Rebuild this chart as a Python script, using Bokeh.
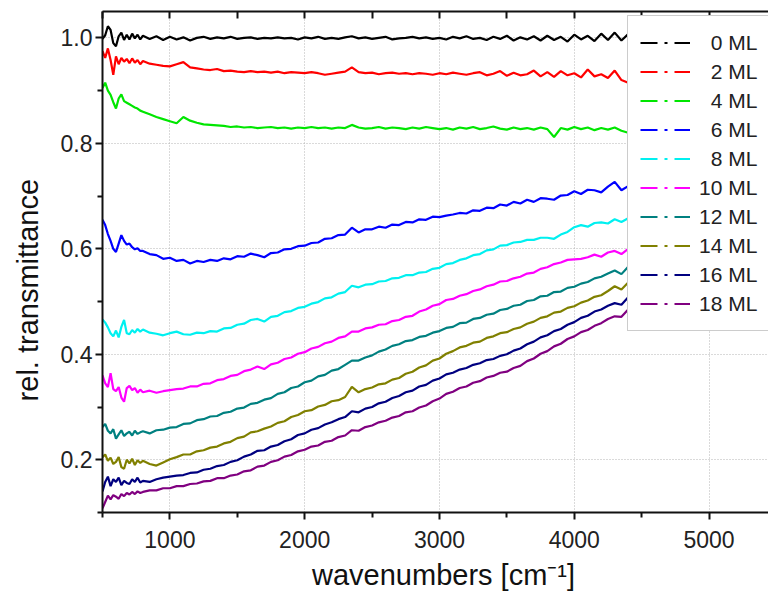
from bokeh.plotting import figure
from bokeh.models import (ColumnDataSource, LinearAxis, Legend, LegendItem, FixedTicker,
                          Range1d, PrintfTickFormatter)
from bokeh.embed import file_html
from bokeh.resources import INLINE

# Sampling grid of the spectra (cm^-1): finer at the low-wavenumber end
WAVENUMBERS = list(range(500, 800, 20)) + list(range(800, 4401, 50))

LABELS = ["0 ML", "2 ML", "4 ML", "6 ML", "8 ML", "10 ML", "12 ML", "14 ML", "16 ML", "18 ML"]
COLORS = ["#000000", "#ff0000", "#00e600", "#0000ff", "#00f0f0",
          "#ff00ff", "#008080", "#808000", "#000080", "#800080"]

T_0ML = [0.998, 1.005, 1.022, 1.015, 0.990, 0.984, 1.003, 1.010, 0.996, 1.006, 0.997, 1.008, 0.999, 1.006, 0.997,
         1.004, 0.998, 1.003, 0.996, 1.002, 0.997, 1.001, 0.995, 1.000, 1.002,
         0.998, 1.001, 0.999, 1.002, 0.998, 1.000, 1.001, 0.998, 1.000, 0.999,
         1.001, 0.999, 1.000, 0.997, 1.001, 0.999, 1.002, 0.998, 1.000, 0.998,
         1.001, 1.003, 0.999, 1.001, 0.998, 1.000, 1.002, 0.997, 0.999, 1.000,
         1.002, 0.999, 1.001, 0.998, 1.000, 0.997, 1.002, 0.999, 1.003, 0.998,
         1.000, 0.996, 1.002, 0.998, 1.004, 0.995, 1.001, 0.997, 1.003, 0.995,
         1.004, 0.996, 1.002, 0.993, 1.006, 0.997, 1.004, 0.994, 1.008, 0.996,
         1.010, 0.995, 1.007]

T_2ML = [0.975, 0.962, 0.980, 0.958, 0.930, 0.965, 0.950, 0.962, 0.955, 0.960, 0.952, 0.961, 0.953, 0.958, 0.950,
         0.956, 0.951, 0.949, 0.947, 0.946, 0.950, 0.954, 0.944, 0.942, 0.940,
         0.939, 0.941, 0.937, 0.938, 0.936, 0.935, 0.937, 0.935, 0.936, 0.934,
         0.936, 0.933, 0.935, 0.934, 0.933, 0.935, 0.933, 0.930, 0.932, 0.934,
         0.936, 0.944, 0.935, 0.933, 0.934, 0.931, 0.933, 0.934, 0.932, 0.933,
         0.931, 0.933, 0.932, 0.930, 0.933, 0.931, 0.934, 0.932, 0.930, 0.933,
         0.935, 0.929, 0.932, 0.937, 0.928, 0.934, 0.929, 0.931, 0.938, 0.927,
         0.935, 0.926, 0.937, 0.929, 0.933, 0.925, 0.940, 0.927, 0.931, 0.924,
         0.938, 0.920, 0.915]

T_4ML = [0.905, 0.915, 0.900, 0.892, 0.878, 0.866, 0.885, 0.893, 0.880, 0.877, 0.874, 0.871, 0.868, 0.866, 0.862,
         0.860, 0.855, 0.850, 0.846, 0.842, 0.838, 0.850, 0.843, 0.839, 0.836,
         0.835, 0.834, 0.833, 0.831, 0.832, 0.830, 0.831, 0.829, 0.830, 0.831,
         0.829, 0.830, 0.828, 0.830, 0.829, 0.831, 0.829, 0.830, 0.828, 0.830,
         0.829, 0.835, 0.830, 0.828, 0.829, 0.831, 0.828, 0.830, 0.829, 0.827,
         0.830, 0.828, 0.831, 0.829, 0.827, 0.829, 0.826, 0.830, 0.828, 0.831,
         0.827, 0.829, 0.832, 0.828, 0.826, 0.830, 0.827, 0.829, 0.826, 0.830,
         0.827, 0.812, 0.829, 0.826, 0.831, 0.827, 0.830, 0.825, 0.829, 0.826,
         0.830, 0.824, 0.820]

T_6ML = [0.655, 0.645, 0.628, 0.615, 0.600, 0.594, 0.610, 0.626, 0.615, 0.608, 0.610, 0.603, 0.599, 0.601, 0.596,
         0.596, 0.590, 0.588, 0.581, 0.583, 0.577, 0.579, 0.572, 0.577, 0.575,
         0.579, 0.577, 0.582, 0.580, 0.586, 0.585, 0.591, 0.588, 0.584, 0.592,
         0.593, 0.599, 0.600, 0.605, 0.606, 0.611, 0.612, 0.619, 0.620, 0.626,
         0.627, 0.640, 0.631, 0.637, 0.637, 0.642, 0.640, 0.646, 0.645, 0.651,
         0.650, 0.656, 0.655, 0.661, 0.660, 0.663, 0.665, 0.668, 0.667, 0.673,
         0.672, 0.678, 0.677, 0.684, 0.682, 0.689, 0.686, 0.693, 0.689, 0.696,
         0.695, 0.693, 0.701, 0.702, 0.709, 0.704, 0.712, 0.711, 0.707, 0.718,
         0.727, 0.711, 0.719]

T_8ML = [0.466, 0.460, 0.451, 0.440, 0.434, 0.445, 0.432, 0.452, 0.465, 0.440, 0.438, 0.446, 0.441, 0.448, 0.443,
         0.447, 0.441, 0.439, 0.436, 0.440, 0.443, 0.438, 0.437, 0.441, 0.440,
         0.444, 0.443, 0.449, 0.450, 0.456, 0.458, 0.465, 0.467, 0.462, 0.471,
         0.473, 0.480, 0.482, 0.488, 0.490, 0.496, 0.499, 0.506, 0.508, 0.515,
         0.518, 0.530, 0.527, 0.532, 0.533, 0.538, 0.539, 0.544, 0.545, 0.550,
         0.550, 0.555, 0.556, 0.562, 0.564, 0.571, 0.573, 0.579, 0.582, 0.588,
         0.590, 0.597, 0.599, 0.606, 0.607, 0.612, 0.613, 0.617, 0.617, 0.621,
         0.621, 0.619, 0.627, 0.632, 0.641, 0.645, 0.642, 0.649, 0.650, 0.648,
         0.656, 0.651, 0.658]

T_10ML = [0.360, 0.345, 0.338, 0.364, 0.334, 0.330, 0.338, 0.318, 0.310, 0.336, 0.340, 0.332, 0.336, 0.327, 0.333,
          0.328, 0.331, 0.327, 0.330, 0.332, 0.334, 0.335, 0.339, 0.339, 0.344,
          0.345, 0.351, 0.353, 0.359, 0.361, 0.368, 0.371, 0.377, 0.372, 0.381,
          0.384, 0.391, 0.394, 0.401, 0.404, 0.411, 0.414, 0.421, 0.424, 0.431,
          0.434, 0.443, 0.443, 0.449, 0.451, 0.456, 0.457, 0.463, 0.465, 0.471,
          0.473, 0.481, 0.485, 0.492, 0.495, 0.503, 0.505, 0.511, 0.514, 0.520,
          0.523, 0.529, 0.532, 0.538, 0.539, 0.544, 0.547, 0.553, 0.555, 0.562,
          0.565, 0.571, 0.574, 0.579, 0.580, 0.581, 0.584, 0.589, 0.585, 0.593,
          0.596, 0.590, 0.600]

T_12ML = [0.262, 0.268, 0.255, 0.250, 0.258, 0.240, 0.248, 0.256, 0.245, 0.250, 0.253, 0.246, 0.255, 0.249, 0.252,
          0.254, 0.250, 0.256, 0.257, 0.261, 0.262, 0.268, 0.269, 0.275, 0.277,
          0.282, 0.283, 0.289, 0.291, 0.297, 0.299, 0.306, 0.308, 0.314, 0.317,
          0.325, 0.328, 0.336, 0.339, 0.347, 0.350, 0.358, 0.361, 0.369, 0.372,
          0.380, 0.388, 0.388, 0.394, 0.398, 0.405, 0.409, 0.416, 0.419, 0.425,
          0.427, 0.433, 0.435, 0.441, 0.444, 0.450, 0.452, 0.459, 0.460, 0.467,
          0.469, 0.475, 0.477, 0.484, 0.486, 0.492, 0.494, 0.501, 0.503, 0.510,
          0.511, 0.518, 0.519, 0.526, 0.528, 0.534, 0.537, 0.544, 0.547, 0.553,
          0.559, 0.552, 0.566]

T_14ML = [0.205, 0.210, 0.198, 0.204, 0.192, 0.196, 0.205, 0.186, 0.183, 0.200, 0.193, 0.202, 0.190, 0.199, 0.194,
          0.198, 0.192, 0.189, 0.195, 0.201, 0.205, 0.210, 0.210, 0.216, 0.218,
          0.223, 0.225, 0.231, 0.234, 0.241, 0.244, 0.252, 0.254, 0.259, 0.263,
          0.270, 0.273, 0.281, 0.285, 0.292, 0.294, 0.301, 0.304, 0.311, 0.313,
          0.319, 0.338, 0.328, 0.334, 0.337, 0.343, 0.345, 0.352, 0.355, 0.363,
          0.367, 0.375, 0.379, 0.388, 0.392, 0.401, 0.406, 0.413, 0.416, 0.422,
          0.424, 0.431, 0.434, 0.440, 0.442, 0.448, 0.451, 0.458, 0.462, 0.469,
          0.472, 0.479, 0.481, 0.488, 0.491, 0.498, 0.502, 0.509, 0.512, 0.520,
          0.529, 0.523, 0.536]

T_16ML = [0.140, 0.158, 0.168, 0.150, 0.163, 0.158, 0.166, 0.152, 0.160, 0.156, 0.154, 0.163, 0.158, 0.166, 0.157,
          0.160, 0.158, 0.163, 0.166, 0.168, 0.170, 0.171, 0.175, 0.176, 0.181,
          0.183, 0.188, 0.190, 0.196, 0.199, 0.206, 0.210, 0.217, 0.218, 0.225,
          0.228, 0.235, 0.239, 0.247, 0.250, 0.257, 0.260, 0.267, 0.271, 0.277,
          0.281, 0.292, 0.290, 0.297, 0.300, 0.307, 0.310, 0.317, 0.321, 0.328,
          0.331, 0.339, 0.342, 0.350, 0.354, 0.362, 0.365, 0.371, 0.374, 0.380,
          0.383, 0.389, 0.391, 0.397, 0.400, 0.407, 0.411, 0.419, 0.424, 0.432,
          0.436, 0.444, 0.448, 0.456, 0.461, 0.469, 0.473, 0.481, 0.485, 0.492,
          0.497, 0.494, 0.508]

T_18ML = [0.108, 0.120, 0.132, 0.125, 0.133, 0.130, 0.126, 0.135, 0.131, 0.137, 0.134, 0.139, 0.135, 0.140, 0.137,
          0.139, 0.142, 0.142, 0.146, 0.146, 0.150, 0.150, 0.154, 0.155, 0.159,
          0.160, 0.165, 0.165, 0.170, 0.172, 0.178, 0.180, 0.187, 0.189, 0.196,
          0.199, 0.206, 0.209, 0.216, 0.219, 0.225, 0.227, 0.234, 0.236, 0.243,
          0.246, 0.256, 0.255, 0.262, 0.265, 0.271, 0.274, 0.280, 0.283, 0.290,
          0.292, 0.299, 0.303, 0.311, 0.316, 0.325, 0.329, 0.336, 0.339, 0.346,
          0.349, 0.356, 0.359, 0.365, 0.367, 0.374, 0.378, 0.387, 0.392, 0.401,
          0.406, 0.415, 0.420, 0.429, 0.434, 0.442, 0.446, 0.454, 0.459, 0.467,
          0.472, 0.471, 0.485]

SERIES = [T_0ML, T_2ML, T_4ML, T_6ML, T_8ML, T_10ML, T_12ML, T_14ML, T_16ML, T_18ML]
for s in SERIES:
    assert len(s) == len(WAVENUMBERS)

X_MAJOR = [1000, 2000, 3000, 4000, 5000]
X_MINOR = [500, 1500, 2500, 3500, 4500]
Y_MAJOR = [0.2, 0.4, 0.6, 0.8, 1.0]
Y_MINOR = [0.1, 0.3, 0.5, 0.7, 0.9]

FONT = "Liberation Sans"
NBSP = "\u00a0"

p = figure(width=768, height=597, output_backend="svg", toolbar_location=None,
           x_range=Range1d(500, 5441), y_range=Range1d(0.1, 1.05),
           min_border_left=102, min_border_right=0, min_border_top=11, min_border_bottom=85,
           x_axis_label=NBSP * 2 + "wavenumbers [cm\u207b\u00b9]",
           y_axis_label="rel. transmittance" + NBSP * 7)
p.outline_line_color = None
p.background_fill_color = "white"
p.border_fill_color = "white"

p.xaxis.ticker = FixedTicker(ticks=X_MAJOR, minor_ticks=X_MINOR)
p.yaxis.ticker = FixedTicker(ticks=Y_MAJOR, minor_ticks=Y_MINOR)
p.yaxis.formatter = PrintfTickFormatter(format="%.1f")
p.xgrid.ticker = FixedTicker(ticks=X_MAJOR)
p.ygrid.ticker = FixedTicker(ticks=Y_MAJOR)
for g in (p.xgrid, p.ygrid):
    g.grid_line_color = "#b4b4b4"
    g.grid_line_dash = "1 2"
    g.grid_line_width = 1

for ax in list(p.xaxis) + list(p.yaxis):
    ax.axis_line_width = 2
    ax.axis_line_color = "#111111"
    ax.major_tick_line_width = 2
    ax.minor_tick_line_width = 2
    ax.major_tick_line_color = "#111111"
    ax.minor_tick_line_color = "#111111"
    ax.major_tick_in = 0
    ax.major_tick_out = 7
    ax.minor_tick_in = 0
    ax.minor_tick_out = 5
    ax.major_label_text_font = FONT
    ax.major_label_text_font_size = "23px"
    ax.major_label_text_color = "#222222"
    ax.axis_label_text_font = FONT
    ax.axis_label_text_font_size = "29px"
    ax.axis_label_text_font_style = "normal"
    ax.axis_label_text_color = "#111111"

p.xaxis.major_label_standoff = 11
p.xaxis.axis_label_standoff = 8
p.yaxis.major_label_standoff = 3
p.yaxis.axis_label_standoff = 14

# mirrored top axis: inward ticks only, no labels
top = LinearAxis(ticker=FixedTicker(ticks=[], minor_ticks=X_MAJOR + X_MINOR),
                 axis_line_width=2, axis_line_color="#111111",
                 minor_tick_in=7, minor_tick_out=0,
                 minor_tick_line_width=2, minor_tick_line_color="#111111")
p.add_layout(top, "above")

items = []
for label, color, values in zip(LABELS, COLORS, SERIES):
    src = ColumnDataSource(dict(x=WAVENUMBERS, y=values))
    p.line("x", "y", source=src, line_color=color, line_width=2.2)
    # legend sample: dash - dot - dash
    dummy = ColumnDataSource(dict(x=[float("nan")], y=[float("nan")]))
    r_key = p.line("x", "y", source=dummy, line_color=color, line_width=2, line_dash="17 7 3 7")
    text = label if len(label) == 5 else "\u2007" + label
    items.append(LegendItem(label=text, renderers=[r_key]))

legend = Legend(items=items, location=(525, 181), margin=0,
                glyph_width=50, glyph_height=29, label_height=29, spacing=0,
                padding=12, label_standoff=9,
                label_text_font=FONT, label_text_font_size="21px", label_text_color="#222222",
                border_line_color="#9a9a9a", border_line_width=1.5,
                background_fill_color="white", background_fill_alpha=1.0)
p.add_layout(legend)

open("out.html", "w").write(file_html(p, INLINE))
